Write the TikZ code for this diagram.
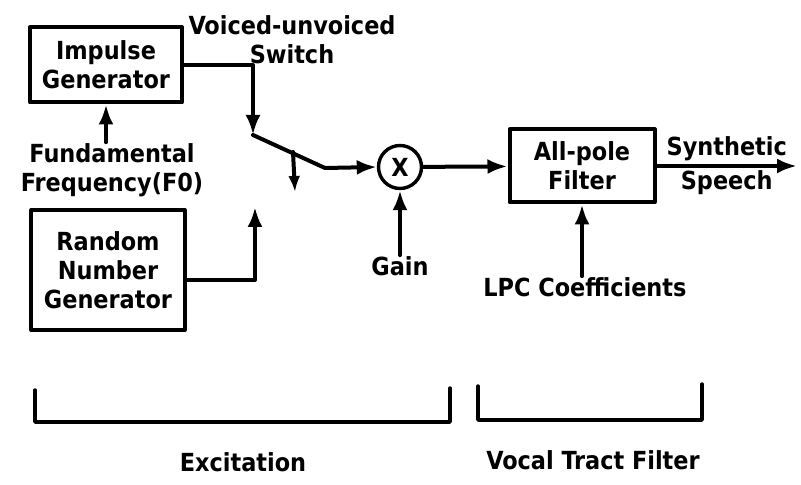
\documentclass[tikz,border=0pt]{standalone}
\usepackage{fontspec}
\setmainfont{DejaVu Sans Condensed}[BoldFont={DejaVu Sans Condensed Bold}]
\usetikzlibrary{arrows.meta, calc, positioning}
\tikzset{
  >={Latex[length=20bp, width=15bp]},
  every picture/.style={line cap=round, line join=round},
  blk/.style={draw, line width=4bp, minimum width=152bp, minimum height=75bp, align=center, inner sep=1bp},
  sig/.style={->, line width=4bp},
  lbl/.style={align=center, inner sep=1bp},
  brk/.style={line width=3.4bp},
}
\begin{document}
\begin{tikzpicture}[x=1bp, y=-1bp, font=\fontsize{25}{29}\selectfont\bfseries]
  \useasboundingbox (0,0) rectangle (801,485);
  % ---- excitation sources
  \node[blk] (imp) at (106,65) {Impulse\\Generator};
  \node[lbl] (f0) at (112,170) {Fundamental\\Frequency(F0)};
  \node[blk, minimum width=153bp, minimum height=120bp] (rng) at (108,270) {Random\\Number\\Generator};
  \draw[sig] (f0.north -| imp.south) -- (imp.south);
  % ---- voiced-unvoiced switch
  \node[lbl] (vus) at (292,40) {Voiced-unvoiced\\Switch};
  \coordinate (swtop) at (253,135);
  \coordinate (swknee) at (325,168);
  \coordinate (swtick) at (293,152);
  \coordinate (swtickend) at (295,192);
  \coordinate (noisein) at (255,207);
  \draw[sig] (imp.east) -| (swtop);
  \draw[sig] ([yshift=-10bp]rng.east) -| (noisein);
  \draw[sig, >={Latex[length=16bp, width=12bp]}] (swtick) -- (swtickend);
  % ---- gain
  \node[draw, circle, line width=3.4bp, minimum size=43bp, inner sep=0pt] (mul) at (400,167) {X};
  \node[lbl] (gain) at (400,266) {Gain};
  \draw[sig] (swtop) -- (swknee) -- (mul.west);
  \draw[sig] (gain) -- (mul);
  % ---- vocal tract filter
  \node[blk, minimum width=145bp, minimum height=73bp] (apf) at (582,166) {All-pole\\Filter};
  \node[lbl] (lpc) at (585,287) {LPC Coefficients};
  \coordinate (out) at (797,166);
  \draw[sig] (mul) -- (apf);
  \draw[sig] (lpc.north -| apf.south) -- (apf.south);
  \draw[sig] (apf) -- node[lbl, above=2bp] {Synthetic} node[lbl, below=2bp] {Speech} (out);
  % ---- brackets
  \draw[brk] (35,390) |- (450,422) -- (450,388);
  \draw[brk] (478,386) |- (702,420) -- (702,384);
  \node[lbl] (exc) at (243,462) {Excitation};
  \node[lbl] (vtf) at (593,460) {Vocal Tract Filter};
\end{tikzpicture}
\end{document}
